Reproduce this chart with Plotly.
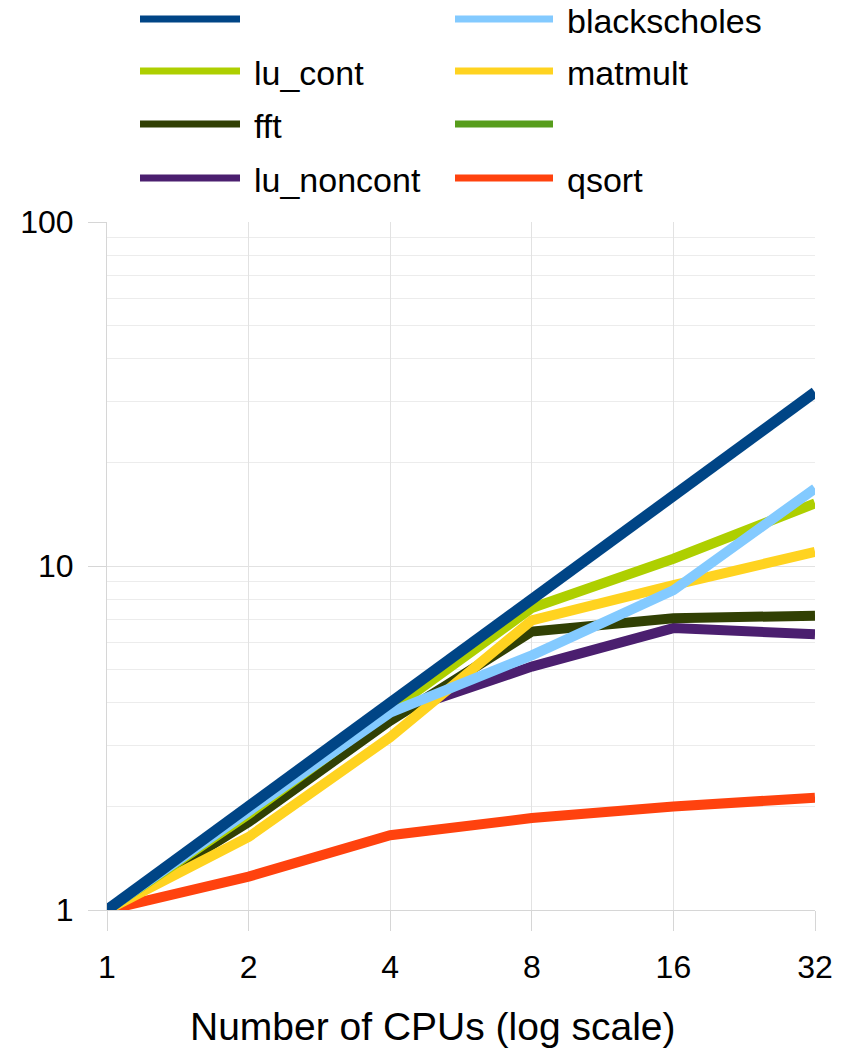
import plotly.graph_objects as go

# Speedup versus number of CPUs for each benchmark
cpus = [1, 2, 4, 8, 16, 32]
cpu_labels = ["1", "2", "4", "8", "16", "32"]

ideal = [1, 2, 4, 8, 16, 32]
blackscholes = [1, 1.95, 3.75, 5.5, 8.5, 16.8]
lu_cont = [1, 1.9, 3.8, 7.55, 10.5, 15.2]
matmult = [1, 1.63, 3.18, 6.95, 8.8, 11.0]
fft = [1, 1.8, 3.55, 6.45, 7.05, 7.17]
unnamed_green = [None, None, None, None, None, None]
lu_noncont = [1, 1.9, 3.7, 5.1, 6.6, 6.33]
qsort = [1, 1.25, 1.65, 1.85, 2.0, 2.12]

speedup_ticks = [1, 10, 100]
speedup_tick_labels = ["1", "10", "100"]

# (legend label, values, colour) in legend order: two columns, row by row
series = [
    ("", ideal, "#004586"),
    ("blackscholes", blackscholes, "#83caff"),
    ("lu_cont", lu_cont, "#aecf00"),
    ("matmult", matmult, "#ffd320"),
    ("fft", fft, "#314004"),
    ("", unnamed_green, "#579d1c"),
    ("lu_noncont", lu_noncont, "#4b1f6f"),
    ("qsort", qsort, "#ff420e"),
]

# stacking order of the lines, bottom first (indices into `series`)
draw_order = [7, 6, 4, 3, 2, 5, 1, 0]

W, H = 852, 1056
L, R, T, B = 107, 37, 222, 146
PW, PH = W - L - R, H - T - B
FONT = "Liberation Sans, Arial, sans-serif"


def px(x):
    return (x - L) / PW


def py(y):
    return (H - B - y) / PH


fig = go.Figure()
for i in draw_order:
    name, vals, color = series[i]
    fig.add_trace(go.Scatter(
        x=cpus, y=vals, mode="lines", name=name or " ",
        line=dict(color=color, width=11 if i == 0 else 10),
        showlegend=False, hoverinfo="skip",
    ))

# two-column legend drawn above the plot area
shapes = []
annotations = []
row_y = [19, 71, 124, 178]
col_line = [(140, 240), (455, 553)]
col_text = [252, 565]
for k, (name, vals, color) in enumerate(series):
    r, c = divmod(k, 2)
    x0, x1 = col_line[c]
    shapes.append(dict(type="line", xref="paper", yref="paper",
                       x0=px(x0), x1=px(x1), y0=py(row_y[r]), y1=py(row_y[r]),
                       line=dict(color=color, width=7)))
    if name:
        annotations.append(dict(xref="paper", yref="paper", x=px(col_text[c]), y=py(row_y[r] + 2),
                                text=name, showarrow=False, xanchor="left", yanchor="middle",
                                font=dict(family=FONT, size=34, color="#000000")))

annotations.append(dict(xref="paper", yref="paper", x=px(432), y=py(1026),
                        text="Number of CPUs (log scale)", showarrow=False,
                        xanchor="center", yanchor="middle",
                        font=dict(family=FONT, size=39, color="#000000")))

grid = "#e2e2e2"
fig.update_layout(
    width=W, height=H,
    margin=dict(l=L, r=R, t=T, b=B, pad=0),
    paper_bgcolor="white", plot_bgcolor="white",
    font=dict(family=FONT, size=32, color="#000000"),
    shapes=shapes, annotations=annotations,
    showlegend=False,
    xaxis=dict(type="log", range=[0, 1.50515], tickvals=cpus, ticktext=cpu_labels,
               showgrid=True, gridcolor=grid, gridwidth=1,
               showline=True, linecolor="#d6d6d6", linewidth=1,
               ticks="outside", ticklen=20, tickcolor="#d6d6d6",
               ticklabelstandoff=9, zeroline=False),
    yaxis=dict(type="log", range=[0, 2], tickvals=speedup_ticks, ticktext=speedup_tick_labels,
               showgrid=True, gridcolor=grid, gridwidth=1,
               showline=True, linecolor="#d6d6d6", linewidth=1,
               ticks="outside", ticklen=18, tickcolor="#d6d6d6",
               ticklabelstandoff=8, zeroline=False,
               minor=dict(tickvals=[2, 3, 4, 5, 6, 7, 8, 9, 20, 30, 40, 50, 60, 70, 80, 90],
                          showgrid=True, gridcolor="#ececec", gridwidth=1, ticks="")),
)

fig.write_html("out.html")
